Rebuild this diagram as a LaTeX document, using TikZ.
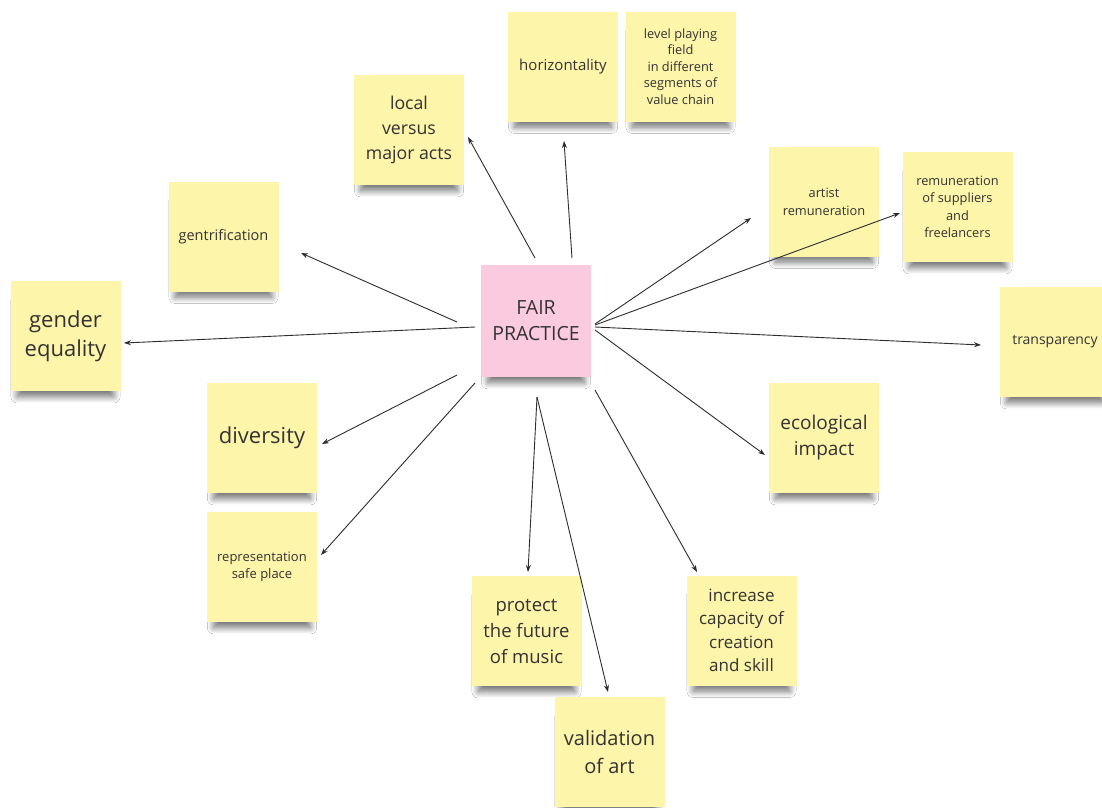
\documentclass[tikz,border=0pt]{standalone}
\usepackage{fontspec}
\setmainfont{Open Sans}
\usetikzlibrary{arrows.meta,shadows.blur}

\definecolor{noteyellow}{RGB}{252,245,170}
\definecolor{notepink}{RGB}{250,203,223}
\definecolor{ink}{RGB}{52,50,50}
\definecolor{wire}{RGB}{45,45,45}

\newcommand{\fsz}[2]{\fontsize{#1}{#2}\selectfont}

\tikzset{
  sticky/.style={
    fill=noteyellow, minimum width=110pt, minimum height=110pt,
    inner sep=3pt, align=center, text=ink,
    blur shadow={shadow xshift=0pt, shadow yshift=-14pt, shadow scale=0.88,
      shadow opacity=55, shadow blur steps=14, shadow blur radius=7pt}},
  hub/.style={sticky, fill=notepink, minimum height=112pt},
  arr/.style={draw=wire, line width=0.9pt, -{Stealth[length=7pt,width=5pt]}}
}

\begin{document}
\begin{tikzpicture}[x=1pt,y=-1pt]
  \useasboundingbox (0,0) rectangle (1102,807);
  \clip (0,0) rectangle (1102,807);
  \fill[white] (0,0) rectangle (1102,807);

  % central note
  \node[hub, font=\fsz{19.5}{26}] (fp) at (536,321) {FAIR\\PRACTICE};

  % surrounding notes
  \node[sticky, font=\fsz{12.8}{16.5}] (level) at (680.5,66.5)
    {level playing\\field\\in different\\segments of\\value chain};
  \node[sticky, font=\fsz{15}{19}] (horiz) at (563,66.5) {horizontality};
  \node[sticky, font=\fsz{17.7}{25}] (local) at (409,130) {local\\versus\\major acts};
  \node[sticky, font=\fsz{12.8}{18}] (artist) at (824,201.5) {artist\\remuneration};
  \node[sticky, font=\fsz{12.8}{17.3}] (suppl) at (957.5,207)
    {remuneration\\of suppliers\\and\\freelancers};
  \node[sticky, font=\fsz{14.5}{18}] (gentr) at (223.5,236.5) {gentrification};
  \node[sticky, font=\fsz{22}{29}] (gender) at (65.5,336) {gender\\equality};
  \node[sticky, font=\fsz{14}{18}] (transp) at (1055,342) {transparency};
  \node[sticky, font=\fsz{22}{27}] (divers) at (262,438) {diversity};
  \node[sticky, font=\fsz{19}{26}] (eco) at (824,438) {ecological\\impact};
  \node[sticky, font=\fsz{13}{17}] (repr) at (262,567) {representation\\safe place};
  \node[sticky, font=\fsz{18.5}{26}] (protect) at (526.5,631) {protect\\the future\\of music};
  \node[sticky, font=\fsz{17}{23.5}] (incr) at (741.5,630.5)
    {increase\\capacity of\\creation\\and skill};
  \node[sticky, font=\fsz{20}{28}] (valid) at (609.5,752) {validation\\of art};

  % connectors from the hub
  \draw[arr] ([shift={(-1,-63)}]fp.center) -- ([shift={(59,7)}]local.center);
  \draw[arr] ([shift={(36,-63)}]fp.center) -- ([shift={(1,74.5)}]horiz.center);
  \draw[arr] ([shift={(-79,1)}]fp.center) -- ([shift={(77.5,16.5)}]gentr.center);
  \draw[arr] ([shift={(-61,6)}]fp.center) -- ([shift={(58.5,7)}]gender.center);
  \draw[arr] ([shift={(-79,54)}]fp.center) -- ([shift={(60,6)}]divers.center);
  \draw[arr] ([shift={(-61,62)}]fp.center) -- ([shift={(59,-12)}]repr.center);
  \draw[arr] ([shift={(1,76)}]fp.center) -- ([shift={(1.5,-59)}]protect.center);
  \draw[arr] ([shift={(1,76)}]fp.center) -- ([shift={(-1.5,-60)}]valid.center);
  \draw[arr] ([shift={(59,69)}]fp.center) -- ([shift={(-44.5,-58.5)}]incr.center);
  \draw[arr] ([shift={(59,9)}]fp.center) -- ([shift={(-59,17)}]eco.center);
  \draw[arr] ([shift={(59,6)}]fp.center) -- ([shift={(-74,3)}]transp.center);
  \draw[arr] ([shift={(59,3)}]fp.center) -- ([shift={(-73,16.5)}]artist.center);
  \draw[arr] ([shift={(59,4)}]fp.center) -- ([shift={(-57.5,6)}]suppl.center);
\end{tikzpicture}
\end{document}
